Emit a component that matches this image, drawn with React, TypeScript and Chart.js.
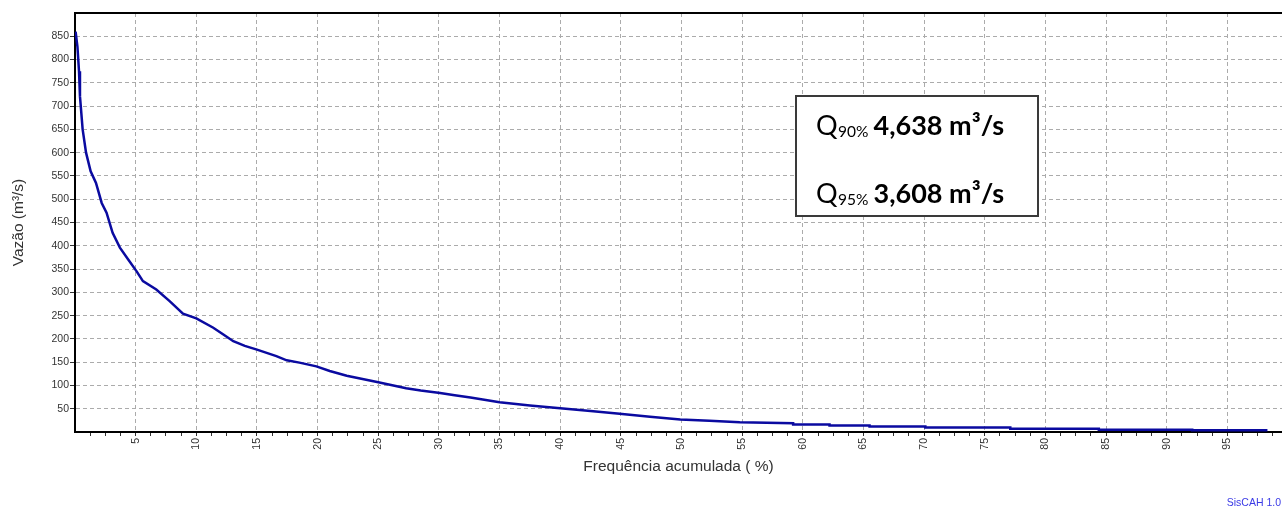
import React, { useEffect, useRef } from 'react';
import { Chart, registerables } from 'chart.js';

Chart.register(...registerables);

// Cumulative frequency (%) and discharge (m³/s)
const freqPct = [
  0.05, 0.2, 0.33, 0.41, 0.63, 0.91, 1.29, 1.73, 2.2, 2.6, 3.1, 3.7, 4.4, 5.08, 5.6, 6.7,
  7.8, 8.9, 10.0, 11.4, 12.2, 13.05, 14.0, 15.0, 16.6, 17.45, 18.5, 19.9, 21.0, 22.4, 23.5,
  25.0, 27.3, 28.5, 30.1, 31.3, 32.6, 35.0, 37.5, 40.0, 42.5, 44.9, 47.4, 49.9, 52.3, 54.8,
  59.2, 59.2, 62.2, 62.2, 65.5, 65.5, 70.1, 70.1, 77.1, 77.1, 84.4, 84.4, 92.1, 92.1, 98.3,
];
const flowM3s = [
  860, 828, 775, 721, 650, 600, 560, 535, 492, 471, 428, 396, 370, 345, 324, 306,
  281, 254, 244, 224, 210, 195, 185, 177, 163, 154, 149, 141, 131, 121, 115,
  107, 94, 89, 84, 79, 74, 64, 57, 51, 45, 39, 33, 27, 24, 21,
  19, 16.3, 16.3, 14.2, 14.2, 12, 12, 9.9, 9.9, 7, 7, 5, 5, 3.5, 3.5,
];

const xMajorTicks = [5, 10, 15, 20, 25, 30, 35, 40, 45, 50, 55, 60, 65, 70, 75, 80, 85, 90, 95];
const xMinorStep = 1.25;
const yTickValues = [50, 100, 150, 200, 250, 300, 350, 400, 450, 500, 550, 600, 650, 700, 750, 800, 850];

const xTitle = 'Frequência acumulada ( %)';
const yTitle = 'Vazão (m³/s)';
const qLabels = ['90%', '95%'];
const qValues = ['4,638 m³/s', '3,608 m³/s'];
const watermark = 'SisCAH 1.0';

const TICK_FONT = { family: "'Liberation Sans', Arial, sans-serif", size: 10.5 };
const TITLE_FONT = { family: "'Liberation Sans', Arial, sans-serif", size: 15.5 };
const GRID_GRAY = '#ababab';
const TRANSPARENT = 'rgba(0,0,0,0)';

const extrasPlugin = {
  id: 'extras',
  afterDraw(chart: any) {
    const { ctx, chartArea } = chart;
    ctx.save();
    // top border
    ctx.strokeStyle = '#000';
    ctx.lineWidth = 2;
    ctx.beginPath();
    ctx.moveTo(chartArea.left - 1, chartArea.top);
    ctx.lineTo(chartArea.right, chartArea.top);
    ctx.stroke();

    // annotation box
    const bx = 796, by = 96, bw = 242, bh = 120;
    ctx.fillStyle = '#fff';
    ctx.fillRect(bx, by, bw, bh);
    ctx.strokeStyle = '#3a3a3a';
    ctx.lineWidth = 2;
    ctx.strokeRect(bx, by, bw, bh);

    const fam = "Lato, 'Open Sans', sans-serif";
    const baselines = [134.5, 202.5];
    ctx.fillStyle = '#000';
    ctx.textBaseline = 'alphabetic';
    ctx.textAlign = 'left';
    for (let i = 0; i < qLabels.length; i++) {
      let x = 816;
      const y = baselines[i];
      ctx.font = `27px ${fam}`;
      ctx.fillText('Q', x, y);
      x += ctx.measureText('Q').width + 0.5;
      ctx.font = `15.5px ${fam}`;
      ctx.fillText(qLabels[i], x, y + 2);
      x += ctx.measureText(qLabels[i]).width + 5;
      ctx.font = `bold 27px ${fam}`;
      ctx.fillText(qValues[i], x, y);
    }

    // watermark
    ctx.font = "10.5px 'Liberation Sans', Arial, sans-serif";
    ctx.fillStyle = '#3a3ae6';
    ctx.textAlign = 'right';
    ctx.fillText(watermark, chart.width - 1, chart.height - 2);
    ctx.restore();
  },
};

export default function App() {
  const ref = useRef<HTMLCanvasElement>(null);

  useEffect(() => {
    if (!ref.current) return;
    const minorTicks: number[] = [];
    for (let v = xMinorStep; v < 99.5; v += xMinorStep) minorTicks.push(v);

    const chart = new Chart(ref.current, {
      type: 'line',
      data: {
        datasets: [
          {
            data: freqPct.map((f, i) => ({ x: f, y: flowM3s[i] })),
            borderColor: '#0a0aa0',
            borderWidth: 2.5,
            pointRadius: 0,
            tension: 0,
            fill: false,
          },
        ],
      },
      options: {
        responsive: false,
        animation: false,
        devicePixelRatio: 1,
        layout: { padding: { top: 13, left: 0, right: 0, bottom: 0 } },
        plugins: { legend: { display: false }, tooltip: { enabled: false } },
        scales: {
          x: {
            type: 'linear',
            min: 0,
            max: 99.5,
            afterBuildTicks: (axis: any) => {
              axis.ticks = minorTicks.map((v) => ({ value: v }));
            },
            afterFit: (scale: any) => {
              scale.height = 76;
              scale.paddingLeft = 0;
              scale.paddingRight = 0;
            },
            ticks: {
              autoSkip: false,
              minRotation: 90,
              maxRotation: 90,
              padding: 2,
              color: '#333',
              font: TICK_FONT,
              callback: (v: any) => (xMajorTicks.includes(Number(v)) ? String(v) : ''),
            },
            grid: {
              color: (c: any) => (c.tick && xMajorTicks.includes(c.tick.value) ? GRID_GRAY : TRANSPARENT),
              tickColor: '#333',
              tickLength: 4,
              lineWidth: 1,
            },
            border: { display: true, color: '#000', width: 2, dash: [4, 3] },
            title: {
              display: true,
              text: xTitle,
              color: '#333',
              font: TITLE_FONT,
              padding: { top: 0, bottom: 32 },
            },
          },
          y: {
            type: 'linear',
            min: 0,
            max: 900,
            afterBuildTicks: (axis: any) => {
              axis.ticks = yTickValues.map((v) => ({ value: v }));
            },
            afterFit: (scale: any) => {
              scale.width = 75;
              scale.paddingTop = 0;
              scale.paddingBottom = 0;
            },
            ticks: {
              autoSkip: false,
              padding: 1,
              color: '#333',
              font: TICK_FONT,
            },
            grid: {
              color: GRID_GRAY,
              tickColor: '#333',
              tickLength: 5,
              lineWidth: 1,
            },
            border: { display: true, color: '#000', width: 2, dash: [4, 3] },
            title: {
              display: true,
              text: yTitle,
              color: '#333',
              font: TITLE_FONT,
              padding: { top: 9, bottom: 0 },
            },
          },
        },
      } as any,
      plugins: [extrasPlugin],
    });
    return () => chart.destroy();
  }, []);

  return (
    <div style={{ position: 'absolute', left: 0, top: 0, width: 1282, height: 508, background: '#fff' }}>
      <canvas ref={ref} width={1282} height={508} style={{ display: 'block' }} />
    </div>
  );
}
